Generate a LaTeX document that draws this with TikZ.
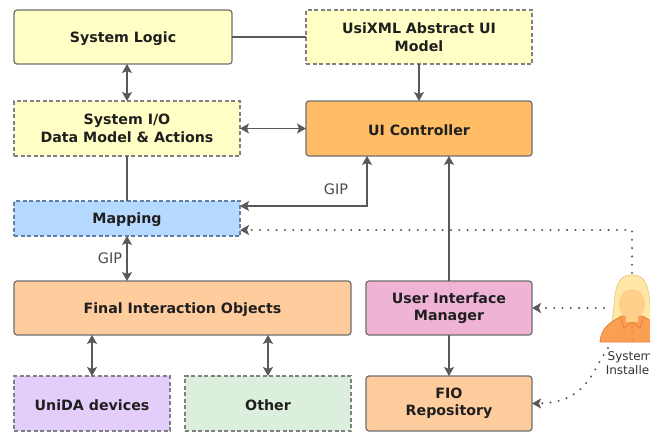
\documentclass[tikz,border=0pt]{standalone}
\usepackage{fontspec}
\setmainfont{DejaVu Sans}
\usetikzlibrary{arrows.meta,positioning}

\definecolor{logicfill}{HTML}{FFFFC6}
\definecolor{ctrlfill}{HTML}{FFBE66}
\definecolor{fiofill}{HTML}{FFCC9E}
\definecolor{mapfill}{HTML}{B5D9FF}
\definecolor{mapline}{HTML}{5F7FA6}
\definecolor{uimfill}{HTML}{EFB3D6}
\definecolor{unifill}{HTML}{E2CDFB}
\definecolor{otherfill}{HTML}{DCEFDC}
\definecolor{linegray}{HTML}{6E6E6E}
\definecolor{dashgray}{HTML}{808080}
\definecolor{hairfill}{HTML}{FFE7A6}
\definecolor{hairline}{HTML}{EBCB88}
\definecolor{facefill}{HTML}{FFCF8C}
\definecolor{bodyfill}{HTML}{FB9F55}
\definecolor{bodyline}{HTML}{E8803A}

\tikzset{
  box/.style={draw=linegray,line width=1.2pt,anchor=north west,outer sep=0pt,inner sep=0pt,
    align=center,text=black!88,font=\fontsize{14.2}{17.5}\selectfont\bfseries,
    execute at begin node=\rule{0pt}{14pt}},
  solidbox/.style={box,rounded corners=3pt},
  dashbox/.style={box,draw=dashgray,dash pattern=on 4pt off 2.5pt},
  conn/.style={draw=black!65,line width=1.1pt},
  dots/.style={draw=black!65,line width=2.3pt,line cap=round,dash pattern=on 0pt off 8.3pt},
  gip/.style={font=\fontsize{14.5}{16}\selectfont,text=black!70}
}

\begin{document}
\begin{tikzpicture}[>={Stealth[length=9pt,width=10pt,inset=2pt]},x=1pt,y=-1pt]

    \useasboundingbox (0,0) rectangle (650,432);

    \node[solidbox,fill=logicfill,minimum width=218pt,minimum height=54pt] (logic) at (14,10) {System Logic};
    \node[dashbox,fill=logicfill,minimum width=226pt,minimum height=54pt] (usi) at (306,10) {UsiXML Abstract UI\\Model};
    \node[dashbox,fill=logicfill,minimum width=226pt,minimum height=55pt] (sysio) [below=37pt of logic.south west,anchor=north west] {System I/O\\Data Model \& Actions};
    \node[solidbox,fill=ctrlfill,minimum width=226pt,minimum height=55pt] (ctrl) [below=37pt of usi.south west,anchor=north west] {UI Controller};
    \node[dashbox,draw=mapline,fill=mapfill,minimum width=226pt,minimum height=35pt] (map) [below=45pt of sysio.south west,anchor=north west] {Mapping};
    \node[solidbox,fill=fiofill,minimum width=337pt,minimum height=54pt] (fio) [below=45pt of map.south west,anchor=north west] {Final Interaction Objects};
    \node[solidbox,fill=uimfill,minimum width=166pt,minimum height=54pt] (uim) [right=15pt of fio.north east,anchor=north west] {User Interface\\Manager};
    \node[dashbox,fill=unifill,minimum width=156pt,minimum height=55pt] (unida) [below=41pt of fio.south west,anchor=north west] {UniDA devices};
    \node[dashbox,fill=otherfill,minimum width=166pt,minimum height=55pt] (other) [right=15pt of unida.north east,anchor=north west] {Other};
    \node[solidbox,fill=fiofill,minimum width=166pt,minimum height=55pt] (repo) [right=15pt of other.north east,anchor=north west] {FIO\\Repository};

    % person
    \node[minimum width=56pt,minimum height=70pt,inner sep=0pt,outer sep=0pt] (user) at (632,308) {};
    \filldraw[fill=hairfill,draw=hairline,line width=.8pt] (612,322) .. controls (616,300) and (612,275) .. (632,275)
        .. controls (652,275) and (648,300) .. (652,322) -- cycle;
    \filldraw[fill=bodyfill,draw=bodyline,line width=.8pt] (600,342) .. controls (601,328) and (610,322) .. (622,316)
        -- (642,316) .. controls (654,322) and (663,328) .. (664,342) -- cycle;
    \fill[facefill] (632,304) ellipse (13pt and 15pt);
    \fill[facefill] (626,310) rectangle (638,322);
    \draw[bodyline,line width=.8pt] (620,317) -- (624,328) -- (632,322) -- (640,328) -- (644,317);
    \foreach \yb in {327,333,339} \fill[bodyline] (632,\yb) circle (1pt);
    \node[inner sep=0pt,align=center,font=\fontsize{12}{14.5}\selectfont,text=black!80] (userlabel) at (630,363) {System\\Installer};

    \coordinate (gipbend) at (367,206);
    \coordinate (dotbend) at (632,230);
    \coordinate (usertail) at (608,348);

    \draw[conn] (logic) -- (usi);
    \draw[conn,->] (usi) -- (ctrl);
    \draw[conn,<->] (logic.south -| sysio.south) -- (sysio.north);
    \draw[conn,<->] (sysio) -- (ctrl);
    \draw[conn] (sysio) -- (map);
    \draw[conn,<->] (gipbend -| map.east) -- (gipbend) -- (gipbend |- ctrl.south);
    \draw[conn,<->] (map.south) -- (map.south |- fio.north);
    \draw[conn,<->] (unida.north |- fio.south) -- (unida.north);
    \draw[conn,<->] (other.north |- fio.south) -- (other.north);
    \draw[conn,->] (uim.north) -- (uim.north |- ctrl.south);
    \draw[conn,->] (uim) -- (repo);
    \draw[dots,->] (user.north) -- (dotbend) -- (dotbend -| map.east);
    \draw[dots,->] (user.west |- uim.east) -- (uim.east);
    \draw[dots,->] (usertail) .. controls (593,368) and (588,403) .. (repo.east);

    \node[gip] (gipctrl) at (336,189) {GIP};
    \node[gip] (gipfio) at (110,258) {GIP};

\end{tikzpicture}
\end{document}
